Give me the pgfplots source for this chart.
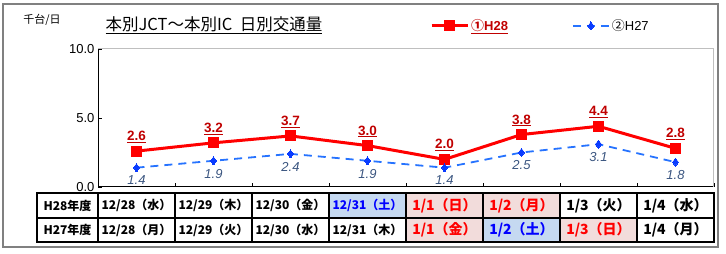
\documentclass[border=0pt]{standalone}
\usepackage{pgfplots}
\pgfplotsset{compat=1.18}
\usepackage{fontspec}
\setmainfont{Liberation Sans}
\newfontfamily\jp{Noto Sans CJK JP}
\definecolor{framegray}{HTML}{808080}
\definecolor{boxgray}{HTML}{BFBFBF}
\definecolor{hred}{HTML}{FF0000}
\definecolor{hredlbl}{HTML}{C00000}
\definecolor{hblue}{HTML}{2673FF}
\definecolor{hbluemk}{HTML}{0A3CFF}
\definecolor{hbluelbl}{HTML}{3A5580}
\definecolor{cpink}{HTML}{F2DCDB}
\definecolor{cblue}{HTML}{C5D9F1}
\definecolor{tred}{HTML}{FF0000}
\definecolor{tblue}{HTML}{0000FF}
\begin{document}
\begin{tikzpicture}[x=1pt,y=1pt]
\path[use as bounding box] (0,0) rectangle (726,254);
\draw[line width=2pt, color=framegray] (3,7) rectangle (718,250);
% unit & title
\node[font=\jp\fontsize{11}{11}\selectfont] at (42,234) {千台/日};
\node[font=\jp\fontsize{16.5}{16.5}\selectfont] at (214,229) {\underline{本別JCT～本別IC\ \ 日別交通量}};
\begin{axis}[
  at={(98pt,67pt)}, anchor=south west,
  scale only axis, width=616pt, height=138pt,
  xmin=-0.5, xmax=7.5, ymin=0, ymax=10,
  axis x line*=bottom, axis y line*=left,
  axis line style={black, line width=1pt},
  clip=false,
  /pgf/number format/assume math mode=true,
  ytick={0,5,10},
  yticklabel style={/pgf/number format/fixed, /pgf/number format/fixed zerofill, /pgf/number format/precision=1, font=\fontsize{13}{13}\selectfont},
  xtick={-0.5,0.5,1.5,2.5,3.5,4.5,5.5,6.5,7.5},
  xticklabels={},
  tick align=inside, major tick length=4pt,
  tick style={black, line width=0.6pt},
  legend columns=2,
  legend style={draw=none, fill=none, inner sep=0pt, at={(axis description cs:0.539,1.167)}, anchor=west, font=\fontsize{13}{13}\selectfont, /tikz/every even column/.append style={column sep=62pt}},
  legend image code/.code={\draw[mark repeat=2,mark phase=2,#1] plot coordinates {(0pt,0pt)(18pt,0pt)(36pt,0pt)};},
]
\addplot[color=hred, line width=3pt, mark=square*, mark size=5pt, mark options={solid, line width=0pt, fill=hred},
  nodes near coords={\underline{\pgfmathprintnumber[fixed,fixed zerofill,precision=1]{\pgfplotspointmeta}}},
  every node near coord/.append style={font=\bfseries\fontsize{13.5}{13.5}\selectfont, color=hredlbl, anchor=south, yshift=5pt}]
  coordinates {(0,2.6)(1,3.2)(2,3.7)(3,3.0)(4,2.0)(5,3.8)(6,4.4)(7,2.8)};
\addlegendentry{\textcolor{hredlbl}{\bfseries\underline{{\jp ①}H28}}}
\addplot[color=hblue, line width=1.8pt, dash pattern=on 8pt off 6pt, mark=diamond*, mark size=4pt, mark options={solid, line width=0pt, fill=hbluemk, draw=hbluemk},
  nodes near coords={\pgfmathprintnumber[fixed,fixed zerofill,precision=1]{\pgfplotspointmeta}},
  every node near coord/.append style={font=\itshape\fontsize{13}{13}\selectfont, color=hbluelbl, anchor=north, yshift=-5pt}]
  coordinates {(0,1.4)(1,1.9)(2,2.4)(3,1.9)(4,1.4)(5,2.5)(6,3.1)(7,1.8)};
\addlegendentry{{\jp ②}H27}
\draw[boxgray, line width=1pt] (rel axis cs:0,1) -- (rel axis cs:1,1) -- (rel axis cs:1,0);
\end{axis}
% table fills
\fill[cblue] (329,36) rectangle (406,61);
\fill[cpink] (406,36) rectangle (560,61);
\fill[cpink] (406,12) rectangle (483,36);
\fill[cblue] (483,12) rectangle (560,36);
\fill[cpink] (560,12) rectangle (637,36);
% table lines
\draw[black, line width=1.6pt] (37,12) rectangle (714,61);
\draw[black, line width=1.6pt] (37,36) -- (714,36);
\foreach \x in {98,175,252,329,406,483,560,637} {\draw[black, line width=1.3pt] (\x,12) -- (\x,61);}
% table text
\begin{scope}[every node/.style={font=\jp\bfseries\fontsize{12}{12}\selectfont}]
\node at (67.5,48.5) {H28年度};
\node at (67.5,24) {H27年度};
\node at (136.5,48.5) {12/28（水）};
\node at (213.5,48.5) {12/29（木）};
\node at (290.5,48.5) {12/30（金）};
\node[text=tblue] at (367.5,48.5) {12/31（土）};
\node at (136.5,24) {12/28（月）};
\node at (213.5,24) {12/29（火）};
\node at (290.5,24) {12/30（水）};
\node at (367.5,24) {12/31（木）};
\end{scope}
\begin{scope}[every node/.style={font=\jp\bfseries\fontsize{14}{14}\selectfont}]
\node[text=tred] at (444.5,48.5) {1/1（日）};
\node[text=tred] at (521.5,48.5) {1/2（月）};
\node at (598.5,48.5) {1/3（火）};
\node at (675.5,48.5) {1/4（水）};
\node[text=tred] at (444.5,24) {1/1（金）};
\node[text=tblue] at (521.5,24) {1/2（土）};
\node[text=tred] at (598.5,24) {1/3（日）};
\node at (675.5,24) {1/4（月）};
\end{scope}
\end{tikzpicture}
\end{document}
